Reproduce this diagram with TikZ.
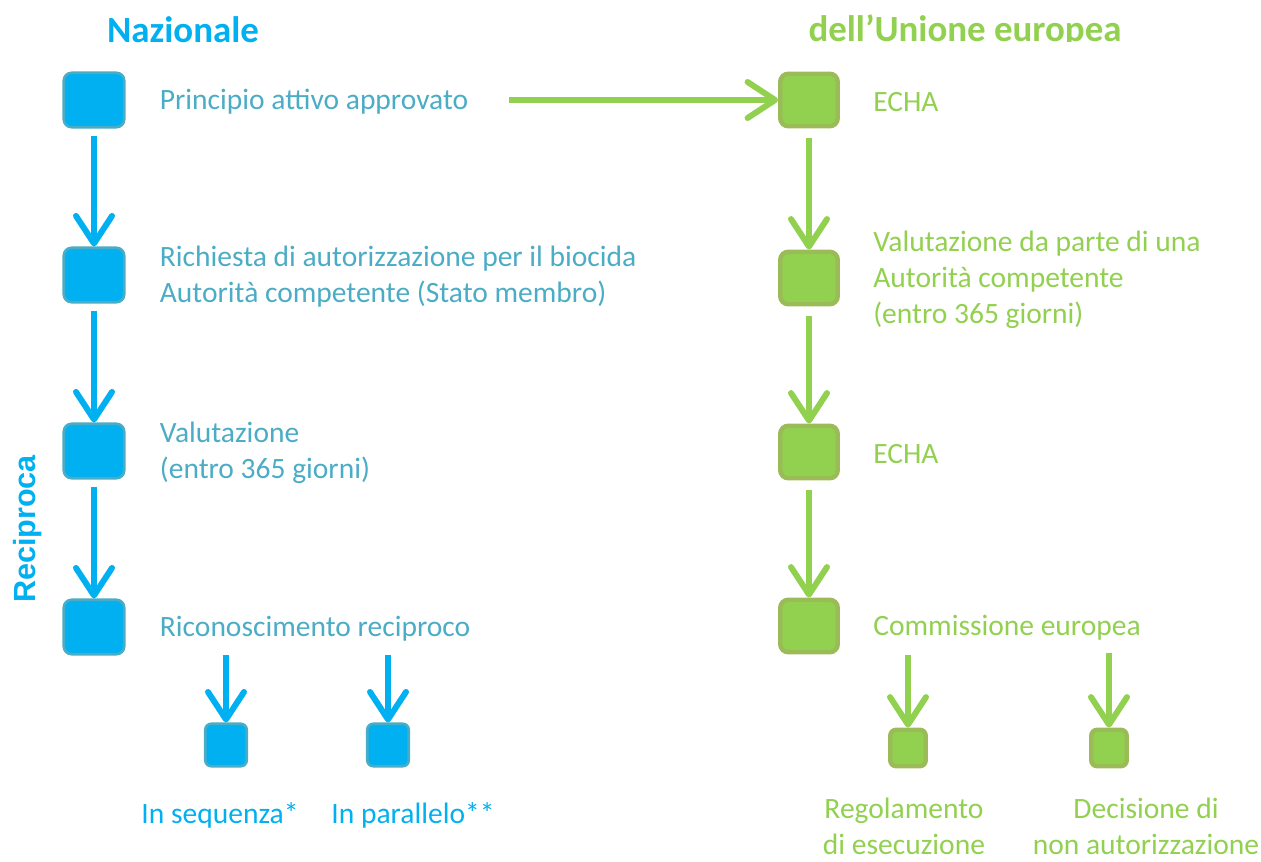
\documentclass[tikz,border=0pt]{standalone}
\usepackage{fontspec}
\setmainfont{Carlito}
\newfontfamily\recfont{Liberation Sans}
\usepackage{tikz}
\usetikzlibrary{arrows.meta,positioning}

\definecolor{natfill}{HTML}{00B0F0}
\definecolor{natline}{HTML}{4BACC6}
\definecolor{eufill}{HTML}{92D050}
\definecolor{euline}{HTML}{9BBB59}

\begin{document}
\begin{tikzpicture}[x=0.02cm,y=-0.02cm,
  nat/.style={rectangle,rounded corners=0.16cm,fill=natfill,draw=natline,line width=1.5pt,minimum width=1.21cm,minimum height=1.09cm},
  natsmall/.style={nat,rounded corners=0.12cm,minimum width=0.83cm,minimum height=0.85cm},
  eu/.style={rectangle,rounded corners=0.16cm,fill=eufill,draw=euline,line width=2.5pt,minimum width=1.15cm,minimum height=1.05cm},
  eusmall/.style={eu,rounded corners=0.12cm,minimum width=0.71cm,minimum height=0.73cm},
  lbl/.style={inner sep=0pt,align=left,font=\fontsize{16.8}{20.5}\selectfont},
  natlbl/.style={lbl,text=natline,yshift=-1pt},
  eulbl/.style={lbl,text=eufill,yshift=-1pt},
  title/.style={inner sep=0pt,anchor=base,font=\fontsize{21}{25}\selectfont\bfseries},
  natarrow/.style={draw=natfill,line width=3.4pt,-{Straight Barb[length=0.55cm,width=0.72cm,round]}},
  euarrow/.style={draw=eufill,line width=3.4pt,-{Straight Barb[length=0.55cm,width=0.72cm,round]}}]
  \useasboundingbox (0,0) rectangle (1261,862);

  % titles
  \node [title,text=natfill] (tnat) at (183,42) {Nazionale};
  \begin{scope}
    \clip (700,0) rectangle (1200,41);
    \node [title,text=eufill] (teu) at (965,41) {dell’Unione europea};
  \end{scope}
  \node [inner sep=0pt,rotate=90,anchor=base,text=natfill,font=\recfont\bfseries\fontsize{17.4}{20}\selectfont] (trec) at (35,529) {Reciproca};

  % national
  \node [nat] (n1) at (94,100) {};
  \node [nat] (n2) at (94,275) {};
  \node [nat] (n3) at (94,451) {};
  \node [nat] (n4) at (94,627) {};
  \node [natsmall] (s1) at (226,745) {};
  \node [natsmall] (s2) at (388,745) {};
  \coordinate (s1top) at (226,655);
  \coordinate (s2top) at (388,655);

  \node [natlbl, right=0.68cm of n1] (l1) {Principio attivo approvato};
  \node [natlbl, right=0.68cm of n2] (l2) {Richiesta di autorizzazione per il biocida\\Autorità competente (Stato membro)};
  \node [natlbl, right=0.68cm of n3] (l3) {Valutazione\\(entro 365 giorni)};
  \node [natlbl, right=0.68cm of n4] (l4) {Riconoscimento reciproco};
  \node [lbl,text=natfill,anchor=base] (ls1) at (220,823) {In sequenza*};
  \node [lbl,text=natfill,anchor=base] (ls2) at (413,823) {In parallelo**};

  \draw[natarrow,shorten <=0.14cm] (n1) -- (n2);
  \draw[natarrow,shorten <=0.14cm] (n2) -- (n3);
  \draw[natarrow,shorten <=0.14cm] (n3) -- (n4);
  \draw[natarrow] (s1top) -- (s1);
  \draw[natarrow] (s2top) -- (s2);

  % union
  \node [eu] (e1) at (809,100) {};
  \node [eu] (e2) at (809,278) {};
  \node [eu] (e3) at (809,452) {};
  \node [eu] (e4) at (809,626) {};
  \node [eusmall] (r1) at (908,748) {};
  \node [eusmall] (r2) at (1109,748) {};
  \coordinate (r1top) at (908,655);
  \coordinate (r2top) at (1109,653);
  \coordinate (link) at (509,100);

  \node [eulbl, right=0.66cm of e1] (k1) {ECHA};
  \node [eulbl, right=0.66cm of e2] (k2) {Valutazione da parte di una\\Autorità competente\\(entro 365 giorni)};
  \node [eulbl, right=0.66cm of e3] (k3) {ECHA};
  \node [eulbl, right=0.66cm of e4] (k4) {Commissione europea};
  \node [lbl,text=eufill,align=center] (kr1) at (904,826) {Regolamento\\di esecuzione};
  \node [lbl,text=eufill,align=center] (kr2) at (1146,826) {Decisione di\\non autorizzazione};

  \draw[euarrow] (link) -- (e1);
  \draw[euarrow,shorten <=0.2cm] (e1) -- (e2);
  \draw[euarrow,shorten <=0.2cm] (e2) -- (e3);
  \draw[euarrow,shorten <=0.2cm] (e3) -- (e4);
  \draw[euarrow] (r1top) -- (r1);
  \draw[euarrow] (r2top) -- (r2);

\end{tikzpicture}
\end{document}
